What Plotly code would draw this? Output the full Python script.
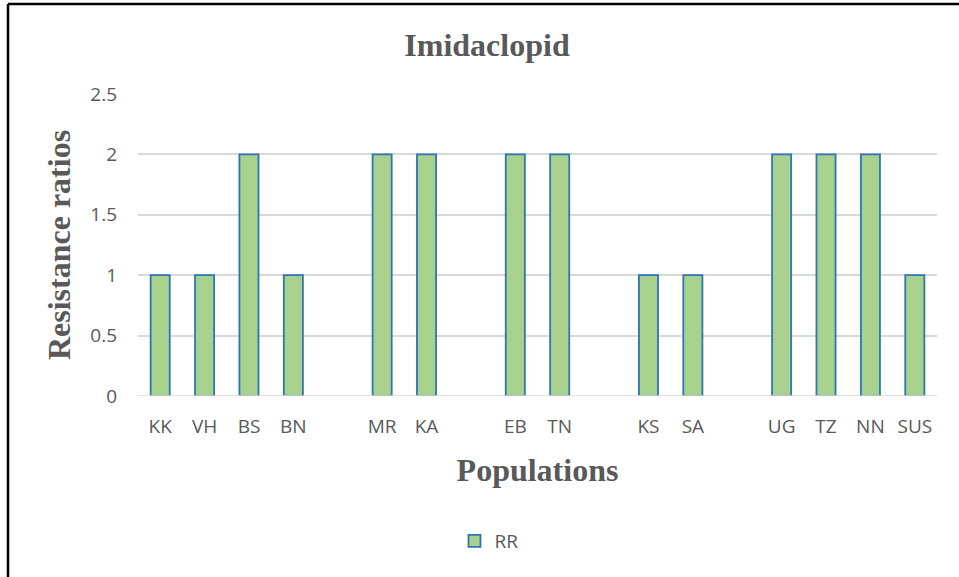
import plotly.graph_objects as go

# Resistance ratios by population; groups separated by an empty slot
groups = [
    ["KK", "VH", "BS", "BN"],
    ["MR", "KA"],
    ["EB", "TN"],
    ["KS", "SA"],
    ["UG", "TZ", "NN", "SUS"],
]
ratios = [
    [1, 1, 2, 1],
    [2, 2],
    [2, 2],
    [1, 1],
    [2, 2, 2, 1],
]
y_ticks = [0, 0.5, 1, 1.5, 2, 2.5]
y_tick_text = ["0", "0.5", "1", "1.5", "2", "2.5"]

# Lay the groups out on a numeric axis with one blank slot between groups
xs, ys, labels = [], [], []
pos = 0
for names, vals in zip(groups, ratios):
    for n, v in zip(names, vals):
        xs.append(pos)
        ys.append(v)
        labels.append(n)
        pos += 1
    pos += 1
last = xs[-1]

W, H = 959, 577
L, R, T, B = 138, 22, 94, 181
pw, ph = W - L - R, H - T - B

grey = "#595959"
serif = "Liberation Serif, Times New Roman, serif"
sans = "Open Sans, Segoe UI, sans-serif"

fig = go.Figure()
fig.add_trace(go.Bar(
    x=xs, y=ys, name="RR",
    marker=dict(color="#A9D18E", line=dict(color="#2E75B6", width=1.8)),
    width=0.43,
))

fig.update_layout(
    width=W, height=H,
    margin=dict(l=L, r=R, t=T, b=B),
    paper_bgcolor="white", plot_bgcolor="white",
    title=dict(text="<b>Imidaclopid</b>", x=487 / W, xanchor="center",
               y=1 - 45 / H, yanchor="middle",
               font=dict(family=serif, size=32, color=grey)),
    xaxis=dict(
        range=[-0.5, last + 0.5],
        tickmode="array", tickvals=xs, ticktext=labels,
        showgrid=False, zeroline=False, showline=False, ticks="",
        tickfont=dict(family=sans, size=19, color=grey),
        ticklabelstandoff=17,
        title=dict(text="<b>Populations</b>", standoff=20,
                   font=dict(family=serif, size=32, color=grey)),
    ),
    yaxis=dict(
        range=[0, 2.5],
        tickmode="array", tickvals=y_ticks, ticktext=y_tick_text,
        showgrid=True, gridcolor="#D9D9D9", gridwidth=1.5,
        zeroline=False, showline=False, ticks="",
        tickfont=dict(family=sans, size=19, color=grey),
        ticklabelstandoff=20,
        title=dict(text="<b>Resistance ratios</b>", standoff=10,
                   font=dict(family=serif, size=32, color=grey)),
    ),
    showlegend=True,
    legend=dict(orientation="h", x=(489 - L) / pw, xanchor="center",
                y=(T + ph - 541) / ph, yanchor="middle",
                font=dict(family=sans, size=19, color=grey)),
)

# Zero baseline as a grey rule across the plot
fig.add_shape(type="line", xref="paper", yref="y", x0=0, x1=1, y0=0, y1=0,
              line=dict(color="#D9D9D9", width=1.5))

# Black frame along the top and left edges of the chart
fx0 = (8 - L) / pw
fy_top = (T + ph - 4) / ph
fy_bot = (T + ph - H - 5) / ph
fx_right = (W + 5 - L) / pw
fig.add_shape(type="line", xref="paper", yref="paper",
              x0=fx0, x1=fx_right, y0=fy_top, y1=fy_top,
              line=dict(color="black", width=2.5))
fig.add_shape(type="line", xref="paper", yref="paper",
              x0=fx0, x1=fx0, y0=fy_top, y1=fy_bot,
              line=dict(color="black", width=2.5))

fig.write_html("out.html")
